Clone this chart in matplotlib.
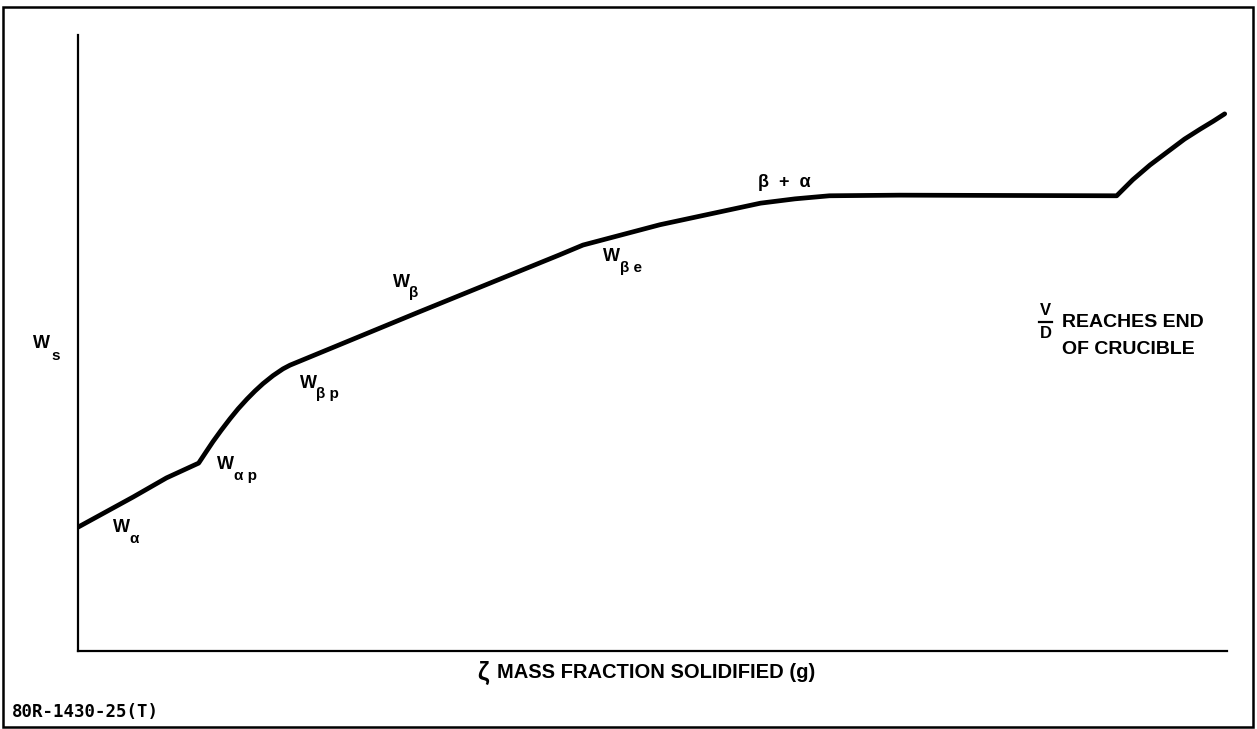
import matplotlib.pyplot as plt
from matplotlib.patches import Rectangle

# solidified mass fraction vs. composition of the solid
zeta = [0, 4.8, 7.7, 10.5, 11.14, 11.75, 12.45, 13.23, 13.93, 14.71, 15.4,
        16.1, 16.97, 17.84, 18.45, 29.5, 41.9, 43.95, 50.65, 59.4, 62.4,
        65.4, 71.5, 90.4, 91.1, 91.8, 93.3, 94.8, 96.3, 97.65, 98.8, 99.8]
w_s = [20.1, 25.0, 28.1, 30.5, 32.3, 34.0, 35.8, 37.7, 39.3, 40.9, 42.2,
       43.4, 44.7, 45.8, 46.4, 54.9, 64.3, 65.9, 69.2, 72.7, 73.4,
       73.9, 74.0, 73.9, 75.2, 76.5, 78.9, 81.0, 83.1, 84.7, 86.0, 87.2]

# curve annotations: (x, y, main text, subscript)
labels = [
    (3.05, 20.0, 'W', 'α'),
    (12.1, 30.2, 'W', 'α p'),
    (19.3, 43.5, 'W', 'β p'),
    (27.4, 59.9, 'W', 'β'),
    (45.7, 64.0, 'W', 'β e'),
]

plt.rcParams['font.family'] = ['Liberation Sans', 'DejaVu Sans']
plt.rcParams['font.weight'] = 'bold'

fig = plt.figure(figsize=(12.57, 7.29), dpi=100)
ax = fig.add_axes([78 / 1257, 78 / 729, 1149 / 1257, 616 / 729])

ax.plot(zeta, w_s, color='black', lw=3.4,
        solid_capstyle='round', solid_joinstyle='round')

ax.set_xlim(0, 100)
ax.set_ylim(0, 100)
ax.set_xticks([])
ax.set_yticks([])
for side in ['top', 'right']:
    ax.spines[side].set_visible(False)
for side in ['left', 'bottom']:
    ax.spines[side].set_linewidth(1.6)


def sub_label(x, y, main, sub, dx=12, dy=-8):
    ax.text(x, y, main, fontsize=13, ha='left', va='center')
    ax.annotate(sub, xy=(x, y), xytext=(dx, dy), textcoords='offset points',
                fontsize=11, ha='left', va='center', annotation_clip=False)


for x, y, main, sub in labels:
    sub_label(x, y, main, sub)

ax.text(61.5, 76.1, 'β  +  α', fontsize=13, ha='center', va='center')

# y label
sub_label(-3.9, 50.0, 'W', 's', dx=13, dy=-9)

# V/D note on the right
ax.text(84.2, 55.2, 'V', fontsize=12, ha='center', va='center')
ax.text(84.2, 51.5, 'D', fontsize=12, ha='center', va='center')
ax.plot([83.6, 84.8], [53.4, 53.4], color='black', lw=1.6, clip_on=False)
ax.text(85.6, 53.4, 'REACHES END', fontsize=14, ha='left', va='center')
ax.text(85.6, 48.9, 'OF CRUCIBLE', fontsize=14, ha='left', va='center')

# x label
fig.text(483 / 1257, 1 - 673 / 729, 'ζ', fontsize=18, ha='center', va='center')
fig.text(497 / 1257, 1 - 673 / 729, 'MASS FRACTION SOLIDIFIED (g)',
         fontsize=14.5, ha='left', va='center')

fig.text(12 / 1257, 1 - 712 / 729, '80R-1430-25(T)', fontsize=12.5,
         family='DejaVu Sans Mono', ha='left', va='center')

# frame around the whole figure
fig.patches.append(Rectangle((3 / 1257, 2 / 729), 1250 / 1257, 720 / 729,
                             transform=fig.transFigure, fill=False,
                             edgecolor='black', lw=1.8))

fig.savefig('out.png', dpi=100)
